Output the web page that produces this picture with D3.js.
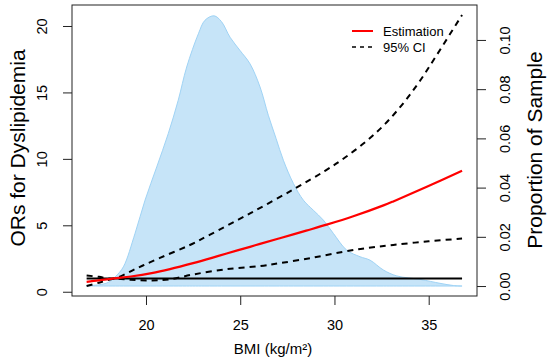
<!DOCTYPE html>
<html><head><meta charset="utf-8">
<script src="https://cdn.jsdelivr.net/npm/d3@7"></script>
<style>body{margin:0;background:#fff}svg{display:block;font-family:"Liberation Sans",Arial,sans-serif}</style>
</head><body><svg id="c" width="550" height="360"></svg>
<script>
// Density of BMI (proportion of sample)
const densBmi = [16.85,17.5,18.0,18.4,18.8,19.42,19.95,20.57,21.18,21.71,22.16,22.78,23.13,23.61,24.0,24.46,24.99,25.52,26.05,26.49,26.9,27.29,27.82,28.35,28.88,29.41,29.94,30.65,31.36,31.89,32.6,33.31,34.54,35.6,36.31,36.77];
const densVal = [0.0002,0.0005,0.0015,0.004,0.0078,0.0214,0.0349,0.0484,0.0619,0.0755,0.089,0.1025,0.108,0.1098,0.1075,0.1011,0.0957,0.0903,0.0809,0.0694,0.06,0.0511,0.0417,0.0349,0.0308,0.0268,0.0214,0.0146,0.0119,0.0105,0.0065,0.0041,0.0027,0.0011,0.0002,0.0];
// Estimated OR
const estBmi = [16.85,17.5,18.3,19.2,20.3,21.27,22.5,23.5,24.28,25.52,26.05,27.1,28.5,29.59,31,32.6,33.12,34.9,36.77];
const estOR  = [0.75,0.85,1.0,1.15,1.4,1.7,2.15,2.55,2.88,3.38,3.6,4.03,4.6,5.05,5.68,6.5,6.8,7.9,9.1];
// Upper 95% CI
const upBmi = [16.85,17.5,18.3,19.5,20.74,22.3,23.4,25.52,27.82,29.5,30.56,31.71,32.7,33.66,34.5,35.42,36.77];
const upOR  = [1.23,1.12,1.0,1.76,2.55,3.5,4.3,5.9,7.7,9.1,10.1,11.35,12.65,14.2,15.8,17.8,20.83];
// Lower 95% CI
const loBmi = [16.85,17.5,18.3,19.2,20.3,21.27,22.5,24.28,26.05,27.1,28.8,30.47,31.8,33.12,35,36.77];
const loOR  = [0.43,0.68,0.98,0.9,0.85,0.93,1.3,1.7,1.93,2.15,2.55,3.01,3.3,3.52,3.8,4.0];
// Reference line
const refBmi = [16.85,36.77];
const refOR = [1,1];
// Ticks / labels
const xTicks = [20,25,30,35];
const yTicks = [0,5,10,15,20];
const y2Ticks = [0,0.02,0.04,0.06,0.08,0.10];
const legendLabels = ["Estimation","95% CI"];

const svg = d3.select("#c");
const L=72,R=477,T=5,B=296;
const x = d3.scaleLinear().domain([16.074,37.563]).range([L,R]);
const y = d3.scaleLinear().domain([-0.32,21.58]).range([B,T]);
const y2 = d3.scaleLinear().domain([-0.00405,0.1142]).range([B,T]);

// density
const area = d3.area().x(d=>x(d[0])).y0(y2(0)).y1(d=>y2(d[1])).curve(d3.curveCatmullRom);
svg.append("path").datum(densBmi.map((b,i)=>[b,densVal[i]]))
  .attr("d",area).attr("fill","#c6e4f8").attr("stroke","#9fd3f5").attr("stroke-width",1);

const line = d3.line().x(d=>x(d[0])).y(d=>y(d[1])).curve(d3.curveCatmullRom.alpha(0.5));
const zip=(a,b)=>a.map((v,i)=>[v,b[i]]);
svg.append("path").datum(zip(refBmi,refOR)).attr("d",line).attr("fill","none").attr("stroke","#000").attr("stroke-width",2);
svg.append("path").datum(zip(upBmi,upOR)).attr("d",line).attr("fill","none").attr("stroke","#000").attr("stroke-width",2).attr("stroke-dasharray","6,5");
svg.append("path").datum(zip(loBmi,loOR)).attr("d",line).attr("fill","none").attr("stroke","#000").attr("stroke-width",2).attr("stroke-dasharray","6,5");
svg.append("path").datum(zip(estBmi,estOR)).attr("d",line).attr("fill","none").attr("stroke","#ff0000").attr("stroke-width",2.2);

// box
svg.append("rect").attr("x",L).attr("y",T).attr("width",R-L).attr("height",B-T).attr("fill","none").attr("stroke","#222").attr("stroke-width",1);

const fs="14.5px";
// bottom axis
const gx = svg.append("g").attr("transform",`translate(0,${B})`).call(d3.axisBottom(x).tickValues(xTicks).tickSize(9).tickFormat(d3.format("d")));
gx.select(".domain").remove();
gx.selectAll("line").attr("stroke","#222");
gx.selectAll("text").attr("y",29).attr("dy","0.35em").attr("font-size",fs).attr("fill","#000").attr("font-family","Liberation Sans, Arial, sans-serif");

// left axis
const gy = svg.append("g").attr("transform",`translate(${L},0)`).call(d3.axisLeft(y).tickValues(yTicks).tickSize(9).tickFormat(d3.format("d")));
gy.select(".domain").remove();
gy.selectAll("line").attr("stroke","#222");
gy.selectAll("text").attr("transform","rotate(-90)").attr("x",0).attr("y",-25).attr("dy","0").attr("text-anchor","middle").attr("font-size",fs).attr("fill","#000").attr("font-family","Liberation Sans, Arial, sans-serif");

// right axis
const gy2 = svg.append("g").attr("transform",`translate(${R},0)`).call(d3.axisRight(y2).tickValues(y2Ticks).tickSize(9).tickFormat(d3.format(".2f")));
gy2.select(".domain").remove();
gy2.selectAll("line").attr("stroke","#222");
gy2.selectAll("text").attr("transform","rotate(-90)").attr("x",0).attr("y",33).attr("dy","0").attr("text-anchor","middle").attr("font-size",fs).attr("fill","#000").attr("font-family","Liberation Sans, Arial, sans-serif");

// titles
svg.append("text").attr("x",273).attr("y",354).attr("text-anchor","middle").attr("font-size","15px").text("BMI (kg/m²)");
svg.append("text").attr("transform","translate(25,148) rotate(-90)").attr("text-anchor","middle").attr("font-size","21px").text("ORs for Dyslipidemia");
svg.append("text").attr("transform","translate(542,150) rotate(-90)").attr("text-anchor","middle").attr("font-size","21px").text("Proportion of Sample");

// legend
const lg = svg.append("g");
const legY=[31,47];
lg.append("line").attr("x1",352).attr("x2",373).attr("y1",legY[0]).attr("y2",legY[0]).attr("stroke","#ff0000").attr("stroke-width",2);
lg.append("line").attr("x1",352).attr("x2",373).attr("y1",legY[1]).attr("y2",legY[1]).attr("stroke","#000").attr("stroke-width",1.5).attr("stroke-dasharray","4,4");
legendLabels.forEach((t,i)=>lg.append("text").attr("x",383).attr("y",legY[i]).attr("dy","0.35em").attr("font-size","13px").text(t));
</script></body></html>
